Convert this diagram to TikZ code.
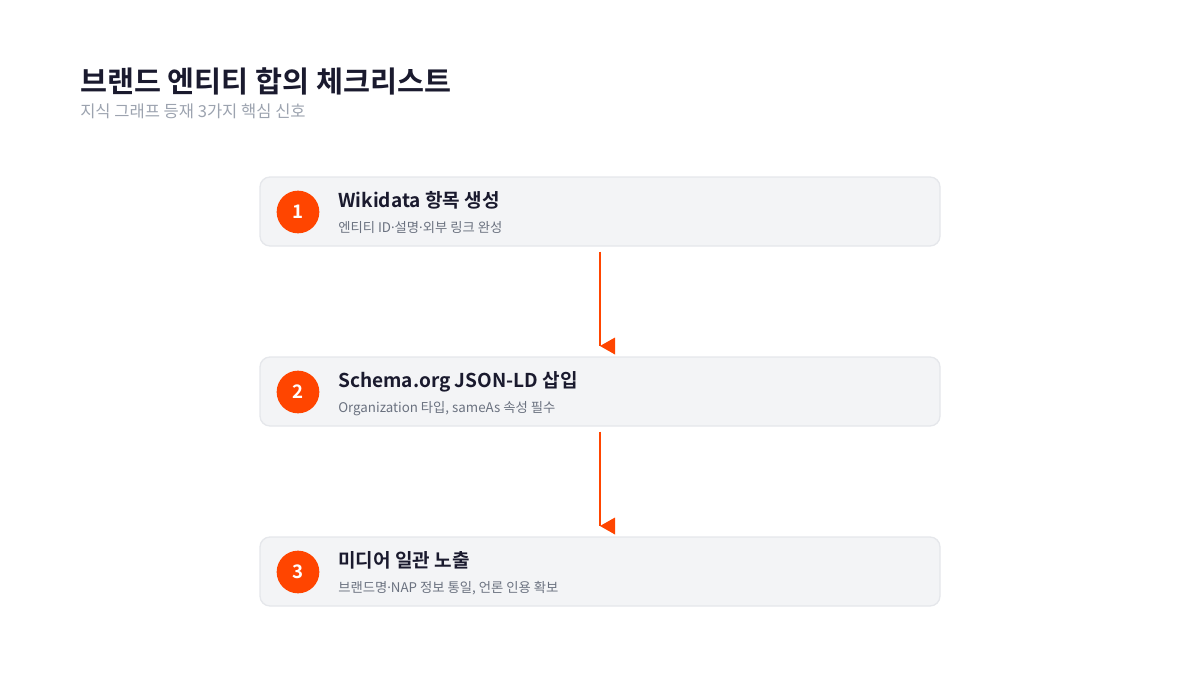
\documentclass[tikz,border=0pt]{standalone}
\usepackage{fontspec}
\setmainfont{Noto Sans CJK KR}[BoldFont={Noto Sans CJK KR Bold}]
\newfontfamily\latinfont{Noto Sans}
\usepackage{xcolor}
\definecolor{ckInk}{HTML}{1A1A2E}
\definecolor{ckGray}{HTML}{9CA3AF}
\definecolor{ckSub}{HTML}{6B7280}
\definecolor{ckFill}{HTML}{F3F4F6}
\definecolor{ckLine}{HTML}{E5E7EB}
\definecolor{ckOrange}{HTML}{FF4500}
\usepackage{tikz}
\tikzset{every stepcard/.style={draw=ckLine, fill=ckFill, line width=1pt, rounded corners=7.5pt},inner sep=0pt}
\tikzset{stepcard/.style={every stepcard, rectangle, minimum width=510pt, minimum height=51.75pt}}
\tikzset{stepnum/.style={circle, fill=ckOrange, minimum size=32pt, text=white, font=\bfseries\fontsize{14}{14}\selectfont}}
\tikzset{steptitle/.style={anchor=base west, text=ckInk, font=\bfseries\fontsize{14.3}{15}\selectfont}}
\tikzset{stepnote/.style={anchor=base west, text=ckSub, font=\fontsize{10}{10}\selectfont}}
\tikzset{flow/.style={draw=ckOrange, line width=1.5pt}}
\tikzset{flowhead/.style={fill=ckOrange}}
\newcommand{\mdot}{{\latinfont ·}}

\begin{document}
\begin{tikzpicture}[x=0.75pt, y=-0.75pt]
\useasboundingbox (0,0) rectangle (1200,675);
%--------------------
% heading
%--------------------
\node[anchor=base west, text=ckInk, font=\bfseries\fontsize{22}{23}\selectfont](head) at (80,92){브랜드 엔티티 합의 체크리스트};
\node[anchor=base west, text=ckGray, font=\fontsize{12.4}{13}\selectfont](subhead) at (80,117){지식 그래프 등재 3가지 핵심 신호};

%--------------------
% step 1
%--------------------
\node[stepcard](card1) at (600,211.5){};
\node[stepnum](num1) at (298,212){1};
\node[steptitle](title1) at (338,207){Wikidata 항목 생성};
\node[stepnote](note1) at (338,232){엔티티 ID\mdot 설명\mdot 외부 링크 완성};

%--------------------
% step 2
%--------------------
\node[stepcard](card2) at (600,391.5){};
\node[stepnum](num2) at (298,392){2};
\node[steptitle](title2) at (338,387){Schema.org JSON-LD 삽입};
\node[stepnote](note2) at (338,412){Organization 타입, sameAs 속성 필수};

%--------------------
% step 3
%--------------------
\node[stepcard](card3) at (600,571.5){};
\node[stepnum](num3) at (298,572){3};
\node[steptitle](title3) at (338,567){미디어 일관 노출};
\node[stepnote](note3) at (338,592){브랜드명\mdot NAP 정보 통일, 언론 인용 확보};

%--------------------
% connectors
%--------------------
\coordinate(end1) at (600,346);
\coordinate(end2) at (600,526);
\draw[flow] ([yshift=-3.75pt]card1.south) -- (end1);
\fill[flowhead] (end1) -- ++(15,-8.5) -- ++(0,17) -- cycle;
\draw[flow] ([yshift=-3.75pt]card2.south) -- (end2);
\fill[flowhead] (end2) -- ++(15,-8.5) -- ++(0,17) -- cycle;
\end{tikzpicture}
\end{document}
